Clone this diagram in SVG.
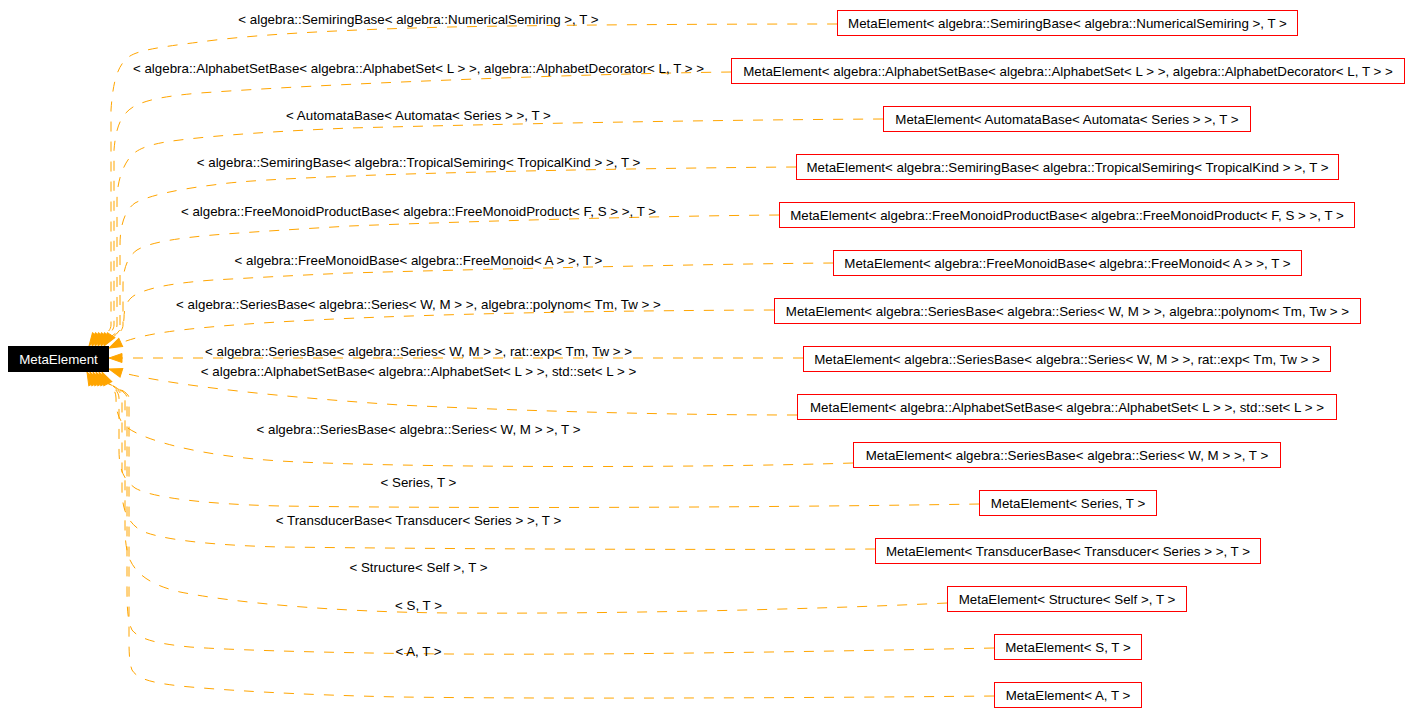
<svg xmlns="http://www.w3.org/2000/svg" width="1412" height="726" viewBox="0 0 1412 726">
<style>
text{font-family:"Liberation Sans",Arial,sans-serif;font-size:13.33px;fill:#000;}
.n rect{fill:#fff;stroke:#ff0000;stroke-width:1;}
.n text{text-anchor:middle;}
.lbl{text-anchor:middle;}
#edges path{fill:none;stroke:#ffa500;stroke-width:1;stroke-dasharray:10,10;marker-end:url(#ah);}
</style>
<defs>
<marker id="ah" markerUnits="userSpaceOnUse" markerWidth="13" markerHeight="9" refX="13" refY="4.5" orient="auto" overflow="visible">
<path d="M0,0 L13,4.5 L0,9 z" fill="#ffa500" stroke="#ffa500" stroke-width="1"/>
</marker>
</defs>
<rect width="1412" height="726" fill="#fff"/>
<g id="edges">
<path d="M837,24 C700,24 550,25 450,27 C330,30 250,35 200,42 C160,47 140,50 130,56 C118,64 113,80 111,110 L111,325 C111,335 93,340 89,346"/>
<path d="M731,72 C650,73 550,76 450,80 C350,84 270,88 200,93 C165,96 145,100 133,107 C122,114 116,125 114,150 L114,325 C114,335 96,340 92,346"/>
<path d="M883,119 C700,120 500,124 350,128 C280,131 220,135 180,140 C155,143 140,147 132,155 C124,163 117,180 117,200 L117,325 C117,335 99,340 95,346"/>
<path d="M796,167 C650,168 450,172 350,176 C280,179 240,181 213,185 C180,189 150,195 135,203 C125,210 120,225 120,245 L120,325 C120,335 102,340 98,346"/>
<path d="M779,215 C650,216 450,222 350,226 C300,229 250,232 213,235 C180,238 150,242 137,250 C127,257 123,270 123,285 L123,325 C123,335 105,340 101,346"/>
<path d="M833,263 C700,264 450,270 350,273 C300,275 250,278 213,280 C175,283 150,287 135,295 C126,300 124,310 124,318 C124,332 108,340 104,346"/>
<path d="M774,310 C500,311 300,318 200,328 C150,333 130,338 109,348"/>
<path d="M803,358 L109,358"/>
<path d="M797,415 C650,415 500,410 400,405 C250,395 150,382 109,369"/>
<path d="M853,463 C700,468 400,468 280,461 C200,456 140,440 124,425 C118,418 116,410 116,398 C116,388 106,380 102,372"/>
<path d="M979,504 C800,507 500,509 280,506 C200,504 150,497 135,488 C124,480 119,470 119,450 L119,398 C119,388 103,380 99,372"/>
<path d="M875,549 C700,550 450,549 280,547 C200,545 155,538 140,530 C128,522 122,510 122,490 L122,398 C122,388 100,380 96,372"/>
<path d="M947,603 C800,610 600,614 450,613 C330,612 230,602 180,592 C155,586 138,577 130,560 C126,550 125,540 125,525 L125,398 C125,388 97,380 93,372"/>
<path d="M994,648 C800,652 600,655 450,654 C330,653 230,650 190,647 C160,644 140,640 132,630 C128,622 127,610 127,590 L127,398 C127,388 94,380 90,372"/>
<path d="M994,696 C800,698 550,699 400,697 C300,695 220,690 180,686 C155,683 138,680 132,670 C129,662 129,650 129,635 L129,398 C129,388 91,380 87,372"/>
</g>
<g id="edge-labels">
<text class="lbl" x="418.5" y="24">&lt; algebra::SemiringBase&lt; algebra::NumericalSemiring &gt;, T &gt;</text>
<text class="lbl" x="418.5" y="73">&lt; algebra::AlphabetSetBase&lt; algebra::AlphabetSet&lt; L &gt; &gt;, algebra::AlphabetDecorator&lt; L, T &gt; &gt;</text>
<text class="lbl" x="418.5" y="120">&lt; AutomataBase&lt; Automata&lt; Series &gt; &gt;, T &gt;</text>
<text class="lbl" x="418.5" y="167">&lt; algebra::SemiringBase&lt; algebra::TropicalSemiring&lt; TropicalKind &gt; &gt;, T &gt;</text>
<text class="lbl" x="418.5" y="216">&lt; algebra::FreeMonoidProductBase&lt; algebra::FreeMonoidProduct&lt; F, S &gt; &gt;, T &gt;</text>
<text class="lbl" x="418.5" y="265">&lt; algebra::FreeMonoidBase&lt; algebra::FreeMonoid&lt; A &gt; &gt;, T &gt;</text>
<text class="lbl" x="418.5" y="309">&lt; algebra::SeriesBase&lt; algebra::Series&lt; W, M &gt; &gt;, algebra::polynom&lt; Tm, Tw &gt; &gt;</text>
<text class="lbl" x="418.5" y="356">&lt; algebra::SeriesBase&lt; algebra::Series&lt; W, M &gt; &gt;, rat::exp&lt; Tm, Tw &gt; &gt;</text>
<text class="lbl" x="418.5" y="376">&lt; algebra::AlphabetSetBase&lt; algebra::AlphabetSet&lt; L &gt; &gt;, std::set&lt; L &gt; &gt;</text>
<text class="lbl" x="418.5" y="434">&lt; algebra::SeriesBase&lt; algebra::Series&lt; W, M &gt; &gt;, T &gt;</text>
<text class="lbl" x="418.5" y="487">&lt; Series, T &gt;</text>
<text class="lbl" x="418.5" y="525">&lt; TransducerBase&lt; Transducer&lt; Series &gt; &gt;, T &gt;</text>
<text class="lbl" x="418.5" y="572">&lt; Structure&lt; Self &gt;, T &gt;</text>
<text class="lbl" x="418.5" y="610">&lt; S, T &gt;</text>
<text class="lbl" x="418.5" y="656">&lt; A, T &gt;</text>
</g>
<g id="node-metaelement">
<rect x="8.5" y="346.5" width="100" height="25" fill="#000" stroke="#000"/>
<text x="58.5" y="363.5" text-anchor="middle" style="fill:#fff">MetaElement</text>
</g>
<g id="node1" class="n"><rect x="837.5" y="10.5" width="460" height="25"/><text x="1067.5" y="28">MetaElement&lt; algebra::SemiringBase&lt; algebra::NumericalSemiring &gt;, T &gt;</text></g>
<g id="node2" class="n"><rect x="731.5" y="58.5" width="673" height="25"/><text x="1068" y="76">MetaElement&lt; algebra::AlphabetSetBase&lt; algebra::AlphabetSet&lt; L &gt; &gt;, algebra::AlphabetDecorator&lt; L, T &gt; &gt;</text></g>
<g id="node3" class="n"><rect x="883.5" y="106.5" width="367" height="25"/><text x="1067" y="124">MetaElement&lt; AutomataBase&lt; Automata&lt; Series &gt; &gt;, T &gt;</text></g>
<g id="node4" class="n"><rect x="796.5" y="154.5" width="542" height="25"/><text x="1067.5" y="172">MetaElement&lt; algebra::SemiringBase&lt; algebra::TropicalSemiring&lt; TropicalKind &gt; &gt;, T &gt;</text></g>
<g id="node5" class="n"><rect x="779.5" y="202.5" width="575" height="25"/><text x="1067" y="220">MetaElement&lt; algebra::FreeMonoidProductBase&lt; algebra::FreeMonoidProduct&lt; F, S &gt; &gt;, T &gt;</text></g>
<g id="node6" class="n"><rect x="833.5" y="250.5" width="468" height="25"/><text x="1067.5" y="268">MetaElement&lt; algebra::FreeMonoidBase&lt; algebra::FreeMonoid&lt; A &gt; &gt;, T &gt;</text></g>
<g id="node7" class="n"><rect x="774.5" y="298.5" width="586" height="25"/><text x="1067.5" y="316">MetaElement&lt; algebra::SeriesBase&lt; algebra::Series&lt; W, M &gt; &gt;, algebra::polynom&lt; Tm, Tw &gt; &gt;</text></g>
<g id="node8" class="n"><rect x="803.5" y="346.5" width="527" height="25"/><text x="1067" y="364">MetaElement&lt; algebra::SeriesBase&lt; algebra::Series&lt; W, M &gt; &gt;, rat::exp&lt; Tm, Tw &gt; &gt;</text></g>
<g id="node9" class="n"><rect x="797.5" y="394.5" width="539" height="25"/><text x="1067" y="412">MetaElement&lt; algebra::AlphabetSetBase&lt; algebra::AlphabetSet&lt; L &gt; &gt;, std::set&lt; L &gt; &gt;</text></g>
<g id="node10" class="n"><rect x="853.5" y="442.5" width="427" height="25"/><text x="1067" y="460">MetaElement&lt; algebra::SeriesBase&lt; algebra::Series&lt; W, M &gt; &gt;, T &gt;</text></g>
<g id="node11" class="n"><rect x="979.5" y="490.5" width="177" height="25"/><text x="1068" y="508">MetaElement&lt; Series, T &gt;</text></g>
<g id="node12" class="n"><rect x="875.5" y="538.5" width="385" height="25"/><text x="1068" y="556">MetaElement&lt; TransducerBase&lt; Transducer&lt; Series &gt; &gt;, T &gt;</text></g>
<g id="node13" class="n"><rect x="947.5" y="586.5" width="239" height="25"/><text x="1067" y="604">MetaElement&lt; Structure&lt; Self &gt;, T &gt;</text></g>
<g id="node14" class="n"><rect x="994.5" y="634.5" width="147" height="25"/><text x="1068" y="652">MetaElement&lt; S, T &gt;</text></g>
<g id="node15" class="n"><rect x="994.5" y="682.5" width="147" height="25"/><text x="1068" y="700">MetaElement&lt; A, T &gt;</text></g>
</svg>
